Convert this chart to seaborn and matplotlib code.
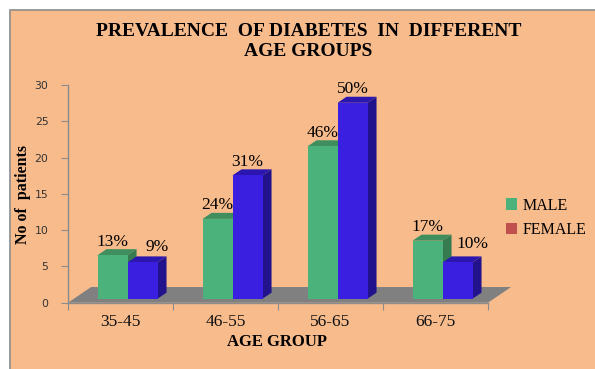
import pandas as pd
import matplotlib.pyplot as plt
import seaborn as sns
from matplotlib.patches import Polygon, Rectangle, Patch

# data
ages = ['35-45', '46-55', '56-65', '66-75']
male = [6, 11, 21, 8]
female = [5, 17, 27, 5]
male_pct = ['13%', '24%', '46%', '17%']
female_pct = ['9%', '31%', '50%', '10%']

df = pd.DataFrame({
    'age': ages * 2,
    'sex': ['MALE'] * 4 + ['FEMALE'] * 4,
    'count': male + female,
})

sns.set_style('white')
plt.rcParams['font.family'] = ['Liberation Serif', 'DejaVu Serif']
plt.rcParams['text.color'] = 'black'

bg = '#F8BB8C'
green, green_top, green_side = '#4CB27C', '#3F8E5E', '#367A50'
blue, blue_top, blue_side = '#3A1FE0', '#2B17B0', '#22128C'

fig = plt.figure(figsize=(5.95, 3.69), dpi=100, facecolor='white')
fig.patches.append(Rectangle((10 / 595, -0.01), 1, 0.983, transform=fig.transFigure,
                             facecolor=bg, edgecolor='#8C8C8C', linewidth=1.2, zorder=-10))

ax = fig.add_axes([68 / 595, 1 - 302.7 / 369, 420 / 595, 217.7 / 369])
ax.patch.set_alpha(0)

sns.barplot(data=df, x='age', y='count', hue='sex', palette=[green, blue],
            width=0.571, saturation=1, legend=False, ax=ax, zorder=3)

ax.set_xlim(-0.5, 3.5)
ax.set_ylim(0, 30)

# floor of the 3d chart
fdx, fdy = 0.22, 2.16
floor = Polygon([(-0.5, 0), (3.5, 0), (3.5 + fdx, fdy), (-0.5 + fdx, fdy)],
                closed=True, facecolor='#808080', edgecolor='none', zorder=1, clip_on=False)
ax.add_patch(floor)

# fake 3d faces on the seaborn bars
dx, dy = 0.086, 0.83
shift_x, shift_y = 0.067, 0.55
bars = list(ax.patches)[:8]
labels = male_pct + female_pct
for i, p in enumerate(bars):
    is_male = i < 4
    p.set_x(p.get_x() + shift_x)
    p.set_y(shift_y)
    p.set_edgecolor('none')
    x0 = p.get_x()
    w = p.get_width()
    top = shift_y + p.get_height()
    tc = green_top if is_male else blue_top
    sc = green_side if is_male else blue_side
    ax.add_patch(Polygon([(x0, top), (x0 + w, top), (x0 + w + dx, top + dy), (x0 + dx, top + dy)],
                         closed=True, facecolor=tc, edgecolor='none', zorder=2, clip_on=False))
    ax.add_patch(Polygon([(x0 + w, shift_y), (x0 + w + dx, shift_y + dy), (x0 + w + dx, top + dy), (x0 + w, top)],
                         closed=True, facecolor=sc, edgecolor='none', zorder=2, clip_on=False))
    lx, ly = x0 + w / 2, top + 1.3
    if not is_male:
        # excel nudges a female label that would collide with the male one
        mtop = shift_y + bars[i - 4].get_height()
        if top <= mtop:
            lx += 0.14
            ly += (mtop - top) * 0.22
    ax.text(lx, ly, labels[i], ha='center', va='baseline',
            fontsize=12.5, color='black', zorder=5)

# axes styling
sns.despine(ax=ax, top=True, right=True)
for s in ['left', 'bottom']:
    ax.spines[s].set_color('#8C8C8C')
    ax.spines[s].set_linewidth(1)
ax.set_yticks(range(0, 31, 5))
ax.set_yticklabels([str(v) for v in range(0, 31, 5)], fontfamily='DejaVu Sans',
                   fontsize=7.8, color='#333333')
ax.tick_params(axis='y', length=5, color='#8C8C8C', pad=9, left=True)
ax.set_xticks([-0.5, 0.5, 1.5, 2.5, 3.5])
ax.set_xticklabels([])
ax.set_xticks(range(4), minor=True)
ax.set_xticklabels(ages, minor=True, fontsize=12.5, color='#111111')
ax.tick_params(axis='x', which='major', length=5, color='#8C8C8C', bottom=True)
ax.tick_params(axis='x', which='minor', length=0, pad=8)

ax.set_xlabel('')
ax.set_ylabel('')
fig.text(277 / 595, 1 - 342 / 369, 'AGE GROUP', ha='center', va='center',
         fontsize=12, fontweight='bold')
fig.text(23 / 595, 1 - 194 / 369, 'No of  patients', ha='center', va='center',
         rotation=90, fontsize=11.5, fontweight='bold')
fig.text(308.5 / 595, 1 - 41.5 / 369, 'PREVALENCE  OF DIABETES  IN  DIFFERENT\nAGE GROUPS',
         ha='center', va='center', fontsize=14, fontweight='bold', linespacing=1.2)

handles = [Patch(facecolor=green, edgecolor='none', label='MALE'),
           Patch(facecolor='#C0504D', edgecolor='none', label='FEMALE')]
fig.legend(handles=handles, loc='center left', bbox_to_anchor=(506 / 595, 1 - 218 / 369),
           frameon=False, fontsize=11.5, handlelength=0.7, handleheight=0.7,
           handletextpad=0.35, labelspacing=0.55, borderpad=0, borderaxespad=0)

fig.savefig('out.png', dpi=100, facecolor='white')
